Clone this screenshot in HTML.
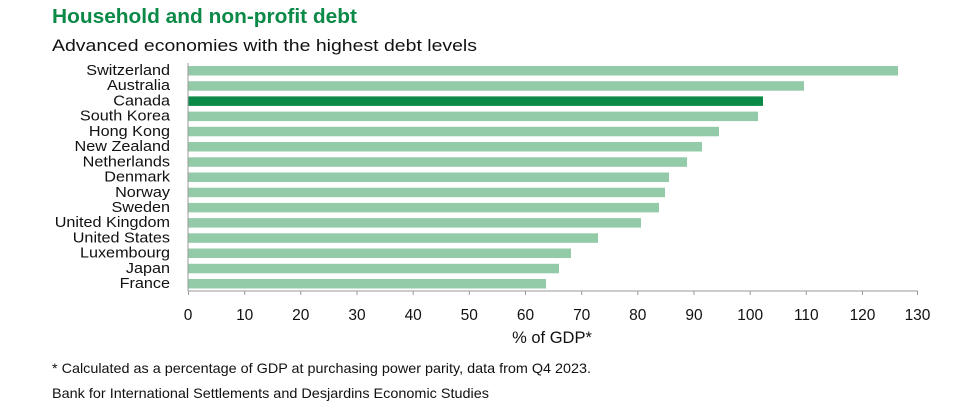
<!DOCTYPE html>
<html><head><meta charset="utf-8"><style>
html,body{margin:0;padding:0;background:#fff;width:970px;height:418px;overflow:hidden}
svg{display:block;font-family:"Liberation Sans",sans-serif}
</style></head><body>
<svg width="970" height="418" viewBox="0 0 970 418">
<text x="52" y="23" font-size="20.5" font-weight="bold" fill="#0b8a47" textLength="305" lengthAdjust="spacingAndGlyphs">Household and non-profit debt</text>
<text x="52" y="51" font-size="17" fill="#111" textLength="425" lengthAdjust="spacingAndGlyphs">Advanced economies with the highest debt levels</text>
<g font-size="15" fill="#111" text-anchor="end" transform="translate(170 0) scale(1.08 1) translate(-170 0)">
<text x="170" y="75">Switzerland</text>
<text x="170" y="90">Australia</text>
<text x="170" y="105.5">Canada</text>
<text x="170" y="120.5">South Korea</text>
<text x="170" y="136">Hong Kong</text>
<text x="170" y="151">New Zealand</text>
<text x="170" y="166.5">Netherlands</text>
<text x="170" y="181.5">Denmark</text>
<text x="170" y="197">Norway</text>
<text x="170" y="212">Sweden</text>
<text x="170" y="227">United Kingdom</text>
<text x="170" y="242.5">United States</text>
<text x="170" y="257.5">Luxembourg</text>
<text x="170" y="273">Japan</text>
<text x="170" y="288">France</text>
</g>
<g fill="#93cba9">
<rect x="188" y="66" width="710" height="9.5"/>
<rect x="188" y="81.2" width="616" height="9.5"/>
<rect x="188" y="96.4" width="575" height="9.5" fill="#0b8a47"/>
<rect x="188" y="111.6" width="570" height="9.5"/>
<rect x="188" y="126.8" width="531" height="9.5"/>
<rect x="188" y="142" width="514" height="9.5"/>
<rect x="188" y="157.3" width="499" height="9.5"/>
<rect x="188" y="172.5" width="481" height="9.5"/>
<rect x="188" y="187.7" width="477" height="9.5"/>
<rect x="188" y="202.9" width="471" height="9.5"/>
<rect x="188" y="218.1" width="453" height="9.5"/>
<rect x="188" y="233.3" width="410" height="9.5"/>
<rect x="188" y="248.5" width="383" height="9.5"/>
<rect x="188" y="263.8" width="371" height="9.5"/>
<rect x="188" y="279" width="358" height="9.5"/>
</g>
<g stroke="#999" stroke-width="1">
<line x1="188" y1="63" x2="188" y2="291"/>
<line x1="188" y1="291" x2="918" y2="291"/>
<path d="M188.5 291v4M244.7 291v4M300.8 291v4M357 291v4M413.2 291v4M469.3 291v4M525.5 291v4M581.7 291v4M637.8 291v4M694 291v4M750.2 291v4M806.3 291v4M862.5 291v4M917.5 291v4"/>
</g>
<g font-size="15.5" fill="#111" text-anchor="middle">
<text x="188" y="320">0</text><text x="244.7" y="320">10</text><text x="300.8" y="320">20</text><text x="357" y="320">30</text><text x="413.2" y="320">40</text><text x="469.3" y="320">50</text><text x="525.5" y="320">60</text><text x="581.7" y="320">70</text><text x="637.8" y="320">80</text><text x="694" y="320">90</text><text x="750.2" y="320">100</text><text x="806.3" y="320">110</text><text x="862.5" y="320">120</text><text x="917.5" y="320">130</text>
<text x="552" y="343" font-size="16.5">% of GDP*</text>
</g>
<text x="52" y="373" font-size="14" fill="#111" textLength="539" lengthAdjust="spacingAndGlyphs">* Calculated as a percentage of GDP at purchasing power parity, data from Q4 2023.</text>
<text x="52" y="398" font-size="14" fill="#111" textLength="437" lengthAdjust="spacingAndGlyphs">Bank for International Settlements and Desjardins Economic Studies</text>
</svg>
</body></html>
